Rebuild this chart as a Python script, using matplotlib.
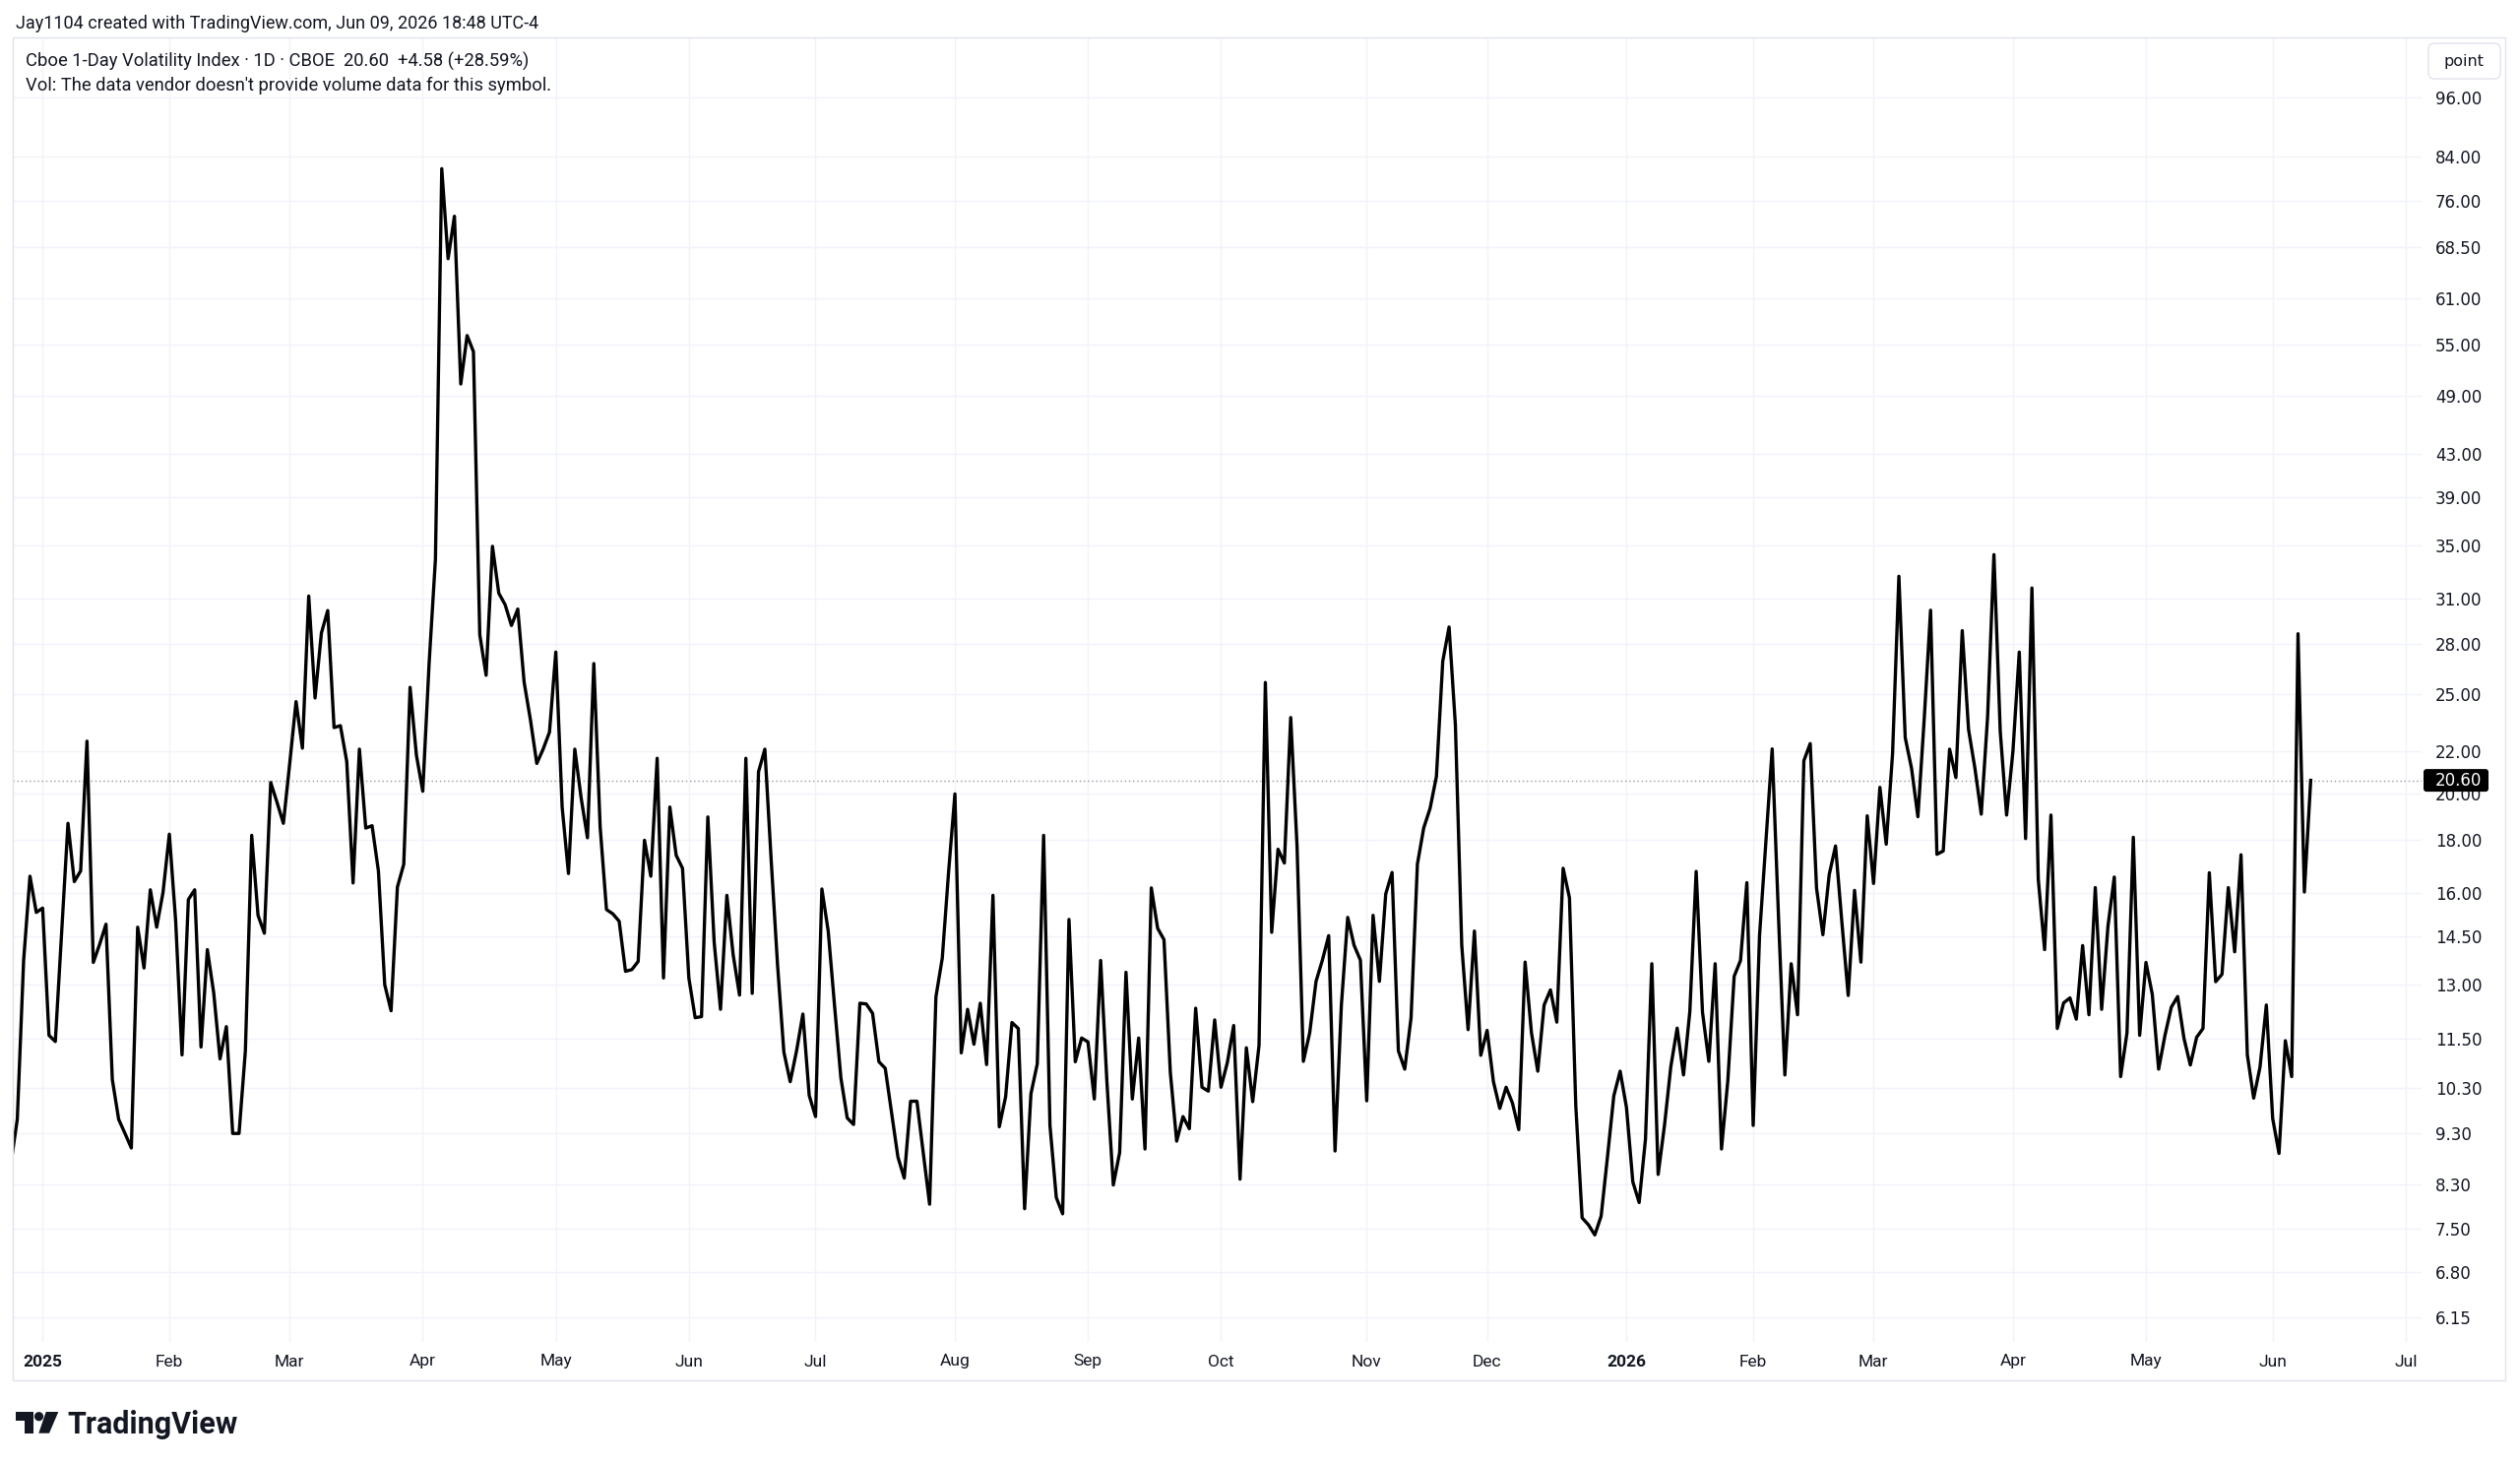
import numpy as np
import pandas as pd
import matplotlib
matplotlib.use("Agg")
import matplotlib.pyplot as plt
from matplotlib.patches import Rectangle, FancyBboxPatch, Circle, Polygon
from matplotlib.ticker import NullLocator

#==============================================================================
# data - Cboe 1-Day Volatility Index daily closes
#==============================================================================

# last sessions of Dec 2024 (only partly visible on the left edge)
vix1d_2024 = [8.70, 9.60, 13.73, 16.60, 15.30]

# Jan 2 2025 .. Dec 31 2025 (250 sessions)
vix1d_2025 = [
    15.45, 11.60, 11.44, 14.60, 18.70, 16.40, 16.80, 22.50, 13.67, 14.24,
    14.90, 10.50, 9.60, 9.30, 9.00, 14.80, 13.50, 16.10, 14.80, 16.00,
    18.25, 15.00, 11.10, 15.75, 16.10, 11.30, 14.07, 12.77, 11.00, 11.83,
    9.30, 9.30, 11.20, 18.20, 15.20, 14.60, 20.50, 19.60, 18.70, 21.40,
    24.60, 22.15, 31.20, 24.80, 28.70, 30.20, 23.20, 23.30, 21.50, 16.35,
    22.10, 18.50, 18.60, 16.80, 13.00, 12.26, 16.20, 17.05, 25.40, 21.80,
    20.10, 26.80, 33.90, 81.70, 66.70, 73.40, 50.30, 56.10, 54.10, 28.60,
    26.10, 34.90, 31.40, 30.60, 29.20, 30.30, 25.70, 23.60, 21.40, 22.10,
    22.96, 27.50, 19.40, 16.70, 22.10, 19.80, 18.10, 26.80, 18.55, 15.40,
    15.25, 15.00, 13.40, 13.45, 13.70, 18.00, 16.60, 21.65, 13.20, 19.40,
    17.40, 16.90, 13.20, 12.07, 12.10, 18.97, 14.30, 12.30, 15.90, 13.90,
    12.70, 21.65, 12.75, 21.00, 22.10, 17.20, 13.60, 11.17, 10.45, 11.20,
    12.17, 10.13, 9.66, 16.13, 14.67, 12.40, 10.54, 9.63, 9.49, 12.47,
    12.45, 12.19, 10.93, 10.77, 9.74, 8.82, 8.41, 10.00, 10.00, 8.90,
    7.93, 12.65, 13.80, 16.76, 19.98, 11.15, 12.30, 11.37, 12.47, 10.86,
    15.90, 9.44, 10.10, 11.94, 11.78, 7.85, 10.17, 10.88, 18.20, 9.47,
    8.05, 7.76, 15.06, 10.93, 11.53, 11.43, 10.05, 13.73, 10.42, 8.28,
    8.91, 13.37, 10.05, 11.53, 8.98, 16.17, 14.76, 14.39, 10.67, 9.14,
    9.66, 9.40, 12.33, 10.32, 10.23, 12.01, 10.32, 10.91, 11.86, 8.39,
    11.28, 9.99, 11.34, 25.68, 14.63, 17.64, 17.10, 23.73, 17.77, 10.94,
    11.67, 13.10, 13.74, 14.52, 8.94, 12.42, 15.13, 14.21, 13.74, 10.01,
    15.20, 13.10, 15.95, 16.74, 11.20, 10.75, 12.07, 17.06, 18.51, 19.34,
    20.78, 26.94, 29.10, 23.32, 14.21, 11.75, 14.67, 11.09, 11.73, 10.45,
    9.84, 10.32, 9.96, 9.38, 13.68, 11.67, 10.70, 12.42, 12.85, 11.95,
    16.90, 15.81, 9.90, 7.69, 7.57, 7.40, 7.72, 8.82, 10.12, 10.70,
]

# Jan 2 2026 .. Jun 9 2026
vix1d_2026 = [
    9.86, 8.34, 7.96, 9.18, 13.63, 8.48, 9.47, 10.81, 11.79, 10.61,
    12.24, 16.78, 12.22, 10.94, 13.63, 8.98, 10.48, 13.25, 13.73, 16.36,
    9.47, 14.52, 17.89, 22.11, 15.13, 10.61, 13.63, 12.15, 21.53, 22.38,
    16.16, 14.55, 16.66, 17.77, 14.97, 12.69, 16.08, 13.68, 19.02, 16.33,
    20.28, 17.84, 21.87, 32.62, 22.68, 21.16, 18.98, 23.67, 30.22, 17.44,
    17.57, 22.10, 20.73, 28.86, 23.09, 21.17, 19.09, 23.76, 34.25, 22.98,
    19.05, 22.00, 27.50, 18.07, 31.77, 16.49, 14.07, 19.05, 11.78, 12.48,
    12.62, 12.03, 14.20, 12.15, 16.18, 12.30, 14.83, 16.57, 10.57, 11.66,
    18.12, 11.60, 13.67, 12.72, 10.75, 11.60, 12.36, 12.66, 11.52, 10.85,
    11.55, 11.78, 16.73, 13.09, 13.31, 16.18, 14.00, 17.42, 11.10, 10.07,
    10.80, 12.42, 9.62, 8.89, 11.46, 10.57, 28.66, 16.02, 20.60,
]

# exchange holidays (no bars on these days)
holidays = ["2024-12-25", "2025-01-01", "2025-01-09", "2025-01-20",
            "2025-02-17", "2025-04-18", "2025-05-26", "2025-06-19",
            "2025-07-04", "2025-09-01", "2025-11-27", "2025-12-25",
            "2026-01-01", "2026-01-19", "2026-02-16", "2026-04-03",
            "2026-05-25", "2026-06-19", "2026-07-03"]

y_ticks = [96, 84, 76, 68.5, 61, 55, 49, 43, 39, 35, 31, 28, 25, 22, 20,
           18, 16, 14.5, 13, 11.5, 10.3, 9.3, 8.3, 7.5, 6.8, 6.15]

last_close = 20.60
change = 4.58
change_pct = 28.59

#==============================================================================
# session axis (TradingView spaces bars by session, not calendar day)
#==============================================================================
closes = vix1d_2024 + vix1d_2025 + vix1d_2026
sessions = pd.bdate_range("2024-12-24", "2026-07-31", freq="C", holidays=holidays)
x = np.arange(len(closes))
x0 = sessions.get_loc(pd.Timestamp("2025-01-02"))

tick_pos, tick_lab = [], []
for k, d in enumerate(sessions):
    if d < pd.Timestamp("2025-01-01"):
        continue
    if d.month != sessions[k - 1].month:
        tick_pos.append(k)
        tick_lab.append(str(d.year) if d.month == 1 else d.strftime("%b"))

#==============================================================================
# figure
#==============================================================================
W, H = 2560, 1488
fig = plt.figure(figsize=(W / 100, H / 100), dpi=100)
fig.patch.set_facecolor("white")

def fx(px):
    return px / W

def fy(py):
    return 1 - py / H

ax = fig.add_axes([fx(13), fy(1363), fx(2460) - fx(13), fy(38) - fy(1363)])
ax.set_facecolor("white")
ax.set_yscale("log")
ax.plot(x, closes, color="#000000", lw=2.4, zorder=3)
ax.axhline(last_close, color="#9598a1", lw=1, ls=(0, (1, 2)), zorder=2)

ax.set_xlim(x0 - 4.71, x0 + 375.5)
ax.set_ylim(5.815, 109.8)

ax.set_yticks(y_ticks)
ax.set_yticklabels(["%.2f" % v for v in y_ticks])
ax.yaxis.set_minor_locator(NullLocator())
ax.yaxis.tick_right()
ax.tick_params(axis="y", length=0, pad=10, labelsize=12, labelcolor="#131722")

ax.set_xticks(tick_pos)
ax.set_xticklabels(tick_lab, fontfamily="Roboto")
ax.tick_params(axis="x", length=0, pad=9, labelsize=12.5, labelcolor="#131722")
for lab in ax.get_xticklabels():
    if lab.get_text().isdigit():
        lab.set_fontweight("bold")

ax.grid(True, color="#f0f3fa", lw=1, zorder=0)
for s in ax.spines.values():
    s.set_visible(False)

#==============================================================================
# overlay in pixel coordinates: frame, header, labels, logo
#==============================================================================
ov = fig.add_axes([0, 0, 1, 1])
ov.set_xlim(0, W)
ov.set_ylim(H, 0)
ov.axis("off")
ov.patch.set_alpha(0)
ov.set_zorder(5)

ov.add_patch(Rectangle((13, 38), 2545 - 13, 1402 - 38, fill=False,
                       ec="#e0e3eb", lw=1))

ov.text(16, 24, "Jay1104 created with TradingView.com, Jun 09, 2026 18:48 UTC-4",
        ha="left", va="center", fontsize=13, family="Roboto", color="#131722")
ov.text(26, 62, "Cboe 1-Day Volatility Index \u00b7 1D \u00b7 CBOE  %.2f  +%.2f (+%.2f%%)"
        % (last_close, change, change_pct),
        ha="left", va="center", fontsize=13.2, family="Roboto", color="#131722")
ov.text(26, 87, "Vol: The data vendor doesn't provide volume data for this symbol.",
        ha="left", va="center", fontsize=13.2, family="Roboto", color="#131722")

# unit box top right
ov.add_patch(FancyBboxPatch((2467, 44), 73, 36, boxstyle="round,pad=0,rounding_size=6",
                            fc="white", ec="#e0e3eb", lw=1))
ov.text(2503.5, 62, "point", ha="center", va="center", fontsize=11.5, color="#131722")

# last price marker on the scale
py = H - ax.transData.transform((x0, last_close))[1]
ov.add_patch(FancyBboxPatch((2462, py - 11.5), 66, 23,
                            boxstyle="round,pad=0,rounding_size=3", fc="#000000", ec="none"))
ov.text(2474, py, "%.2f" % last_close, ha="left", va="center", fontsize=12, color="white")

# TradingView logo
logo_c = "#131722"
ov.add_patch(Polygon([(16, 1434), (34.3, 1434), (34.3, 1455.7), (25, 1455.7),
                      (25, 1443.3), (16, 1443.3)], closed=True, fc=logo_c, ec="none"))
ov.add_patch(Circle((39.5, 1438.7), 4.6, fc=logo_c, ec="none"))
ov.add_patch(Polygon([(46.7, 1434), (59.3, 1434), (50, 1455.7), (39.3, 1455.7)],
                     closed=True, fc=logo_c, ec="none"))
ov.text(68, 1455.7, "TradingView", ha="left", va="baseline", fontsize=22,
        fontweight="bold", family="Roboto", color=logo_c)

fig.savefig("out.png", dpi=100, facecolor="white")
